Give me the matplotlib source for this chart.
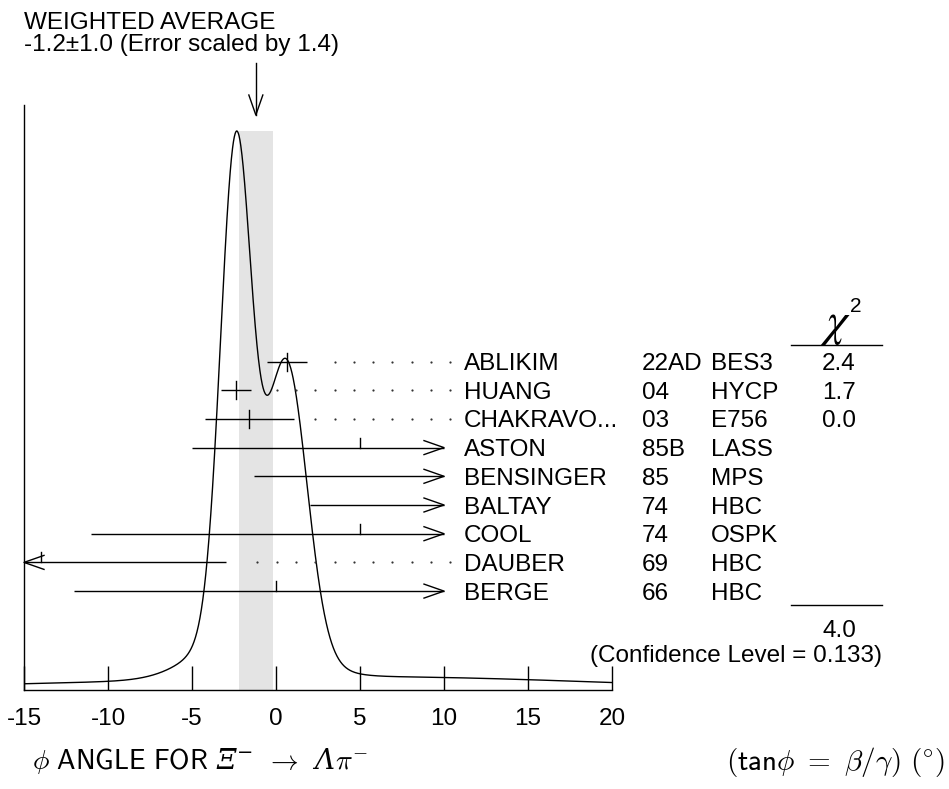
import numpy as np
import matplotlib
matplotlib.use('Agg')
import matplotlib.pyplot as plt

plt.rcParams['font.family'] = ['Liberation Sans', 'DejaVu Sans']
plt.rcParams['axes.unicode_minus'] = False
# fonts for the 'custom' math set (italic capital Greek in the x label)
plt.rcParams['mathtext.rm'] = 'DejaVu Serif:italic'
plt.rcParams['mathtext.it'] = 'DejaVu Serif:italic'
plt.rcParams['mathtext.sf'] = 'cmss10'

# measurements (top to bottom) ..............................................
names = ['ABLIKIM', 'HUANG', 'CHAKRAVO...', 'ASTON', 'BENSINGER',
         'BALTAY', 'COOL', 'DAUBER', 'BERGE']
years = ['22AD', '04', '03', '85B', '85', '74', '74', '69', '66']
experiments = ['BES3', 'HYCP', 'E756', 'LASS', 'MPS', 'HBC', 'OSPK',
               'HBC', 'HBC']
values = [0.65, -2.39, -1.6, 5.0, 11.0, 14.0, 5.0, -14.0, 0.0]
errors = [1.2, 0.91, 2.65, 10.0, 12.3, 12.0, 16.0, 11.0, 12.0]
chi2 = ['2.4', '1.7', '0.0']          # only the measurements used
n_used = len(chi2)

avg, avg_err, err_scale = -1.2, 1.0, 1.4
chi2_total = '4.0'
conf_level = '0.133'

x_ticks = [-15, -10, -5, 0, 5, 10, 15, 20]
x_min, x_max = -15, 20
bar_max = 10          # error bars are cut (arrow) beyond this

# layout in pixels ..........................................................
W, H = 949, 789
AX_L, AX_R, AX_T, AX_B = 24, 612, 105, 690
px = (x_max - x_min) / (AX_R - AX_L)     # data units per pixel


def col(xp):
    return x_min + (xp - AX_L) * px


def row(yp):
    return AX_B - yp


FS = 17.5

fig = plt.figure(figsize=(W / 100, H / 100), dpi=100)
ax = fig.add_axes([AX_L / W, (H - AX_B) / H, (AX_R - AX_L) / W,
                   (AX_B - AX_T) / H])
ax.set_xlim(x_min, x_max)
ax.set_ylim(0, AX_B - AX_T)

# ideogram ..................................................................
v = np.array(values)
e = np.array(errors)
xs = np.linspace(x_min, x_max, 2000)
ideo = np.sum(np.exp(-0.5 * ((xs[:, None] - v) / e) ** 2) / e ** 2, axis=1)
peak_h = row(131)
ax.plot(xs, ideo / ideo.max() * peak_h, color='black', lw=1.0, zorder=3)

ax.fill_between([avg - avg_err, avg + avg_err], 0, peak_h,
                color='#e4e4e4', lw=0, zorder=0)

# measurements ..............................................................
dot_grid = col(450.3) - (19.3 * px) * np.arange(40)
for i, (val, err) in enumerate(zip(values, errors)):
    y = row(361.5 + 28.7 * i)
    lo, hi = val - err, val + err
    a, b = max(lo, x_min), min(hi, bar_max)
    ax.plot([a, b], [y, y], color='black', lw=1.0, solid_capstyle='butt',
            zorder=4)
    if hi > bar_max:
        ax.plot([bar_max - 20 * px, bar_max, bar_max - 20 * px],
                [y + 7, y, y - 7], color='black', lw=1.0, zorder=4)
    if lo < x_min:
        ax.plot([x_min + 20 * px, x_min, x_min + 20 * px],
                [y + 7, y, y - 7], color='black', lw=1.0, zorder=4,
                clip_on=False)
    if x_min < val < bar_max:
        if i < n_used:
            ax.plot([val, val], [y - 9, y + 9], color='black', lw=1.0,
                    zorder=4)
        else:
            ax.plot([val, val], [y, y + 10], color='black', lw=1.0,
                    zorder=4)
    dots = dot_grid[(dot_grid > b + 0.85) & (dot_grid > x_min)]
    ax.plot(dots, np.full(len(dots), y), ls='none', marker='o', ms=1.6,
            mew=0, color='#333333', zorder=4)

    ty = y - 8.5
    ax.text(col(464), ty, names[i], fontsize=FS, va='baseline')
    ax.text(col(642), ty, years[i], fontsize=FS, va='baseline')
    ax.text(col(711), ty, experiments[i], fontsize=FS, va='baseline')
    if i < n_used:
        ax.text(col(839), ty, chi2[i], fontsize=FS, va='baseline',
                ha='center')

# chi2 column ...............................................................
ax.text(col(835), row(303), r'$\chi$', fontsize=34, ha='center', va='top',
        math_fontfamily='stix')
ax.text(col(856), row(297), '2', fontsize=15, ha='center', va='top')
ax.plot([col(791), col(882)], [row(345)] * 2, color='black', lw=1.0,
        clip_on=False)
ax.plot([col(791), col(882)], [row(605)] * 2, color='black', lw=1.0,
        clip_on=False)
ax.text(col(839), row(637), chi2_total, fontsize=FS, ha='center',
        va='baseline')
ax.text(col(882), row(662), '(Confidence Level = %s)' % conf_level,
        fontsize=FS, ha='right', va='baseline')

# weighted average ..........................................................
ax.plot([avg, avg], [row(63), row(115)], color='black', lw=1.0,
        clip_on=False)
ax.plot([avg - 7 * px, avg, avg + 7 * px], [row(95), row(115), row(95)],
        color='black', lw=1.0, clip_on=False)
fig.text(AX_L / W, 1 - 29 / H, 'WEIGHTED AVERAGE', fontsize=FS,
         va='baseline')
fig.text(AX_L / W, 1 - 51 / H,
         '%.1f\u00b1%.1f (Error scaled by %.1f)' % (avg, avg_err, err_scale),
         fontsize=FS, va='baseline')

# axes ......................................................................
for s in ['top', 'right']:
    ax.spines[s].set_visible(False)
for s in ['left', 'bottom']:
    ax.spines[s].set_linewidth(1.0)
ax.set_yticks([])
ax.set_xticks(x_ticks, labels=[str(t) for t in x_ticks])
ax.tick_params(axis='x', direction='in', length=17, width=1.0, pad=13,
               labelsize=FS)

# x label, built from pieces so the capital Greek can be italic
renderer = fig.canvas.get_renderer()
label_parts = [(r'$\phi\ \mathsf{ANGLE\ FOR}$', 'cm', 8),
               (r'$\Xi^{-}$', 'custom', 13),
               (r'$\rightarrow$', 'cm', 13),
               (r'$\Lambda$', 'custom', 0),
               (r'$\pi^{-}$', 'cm', 0)]
xp = 32
for s, mf, gap in label_parts:
    t = fig.text(xp / W, 1 - 769 / H, s, fontsize=20, va='baseline',
                 ha='left', math_fontfamily=mf)
    xp = t.get_window_extent(renderer).x1 + gap

fig.text(945 / W, 1 - 762 / H,
         r'$(\mathsf{tan}\phi\ =\ \beta/\gamma)\ (^{\circ})$',
         fontsize=21, va='center', ha='right', math_fontfamily='cm')

fig.savefig('out.png', dpi=100)
